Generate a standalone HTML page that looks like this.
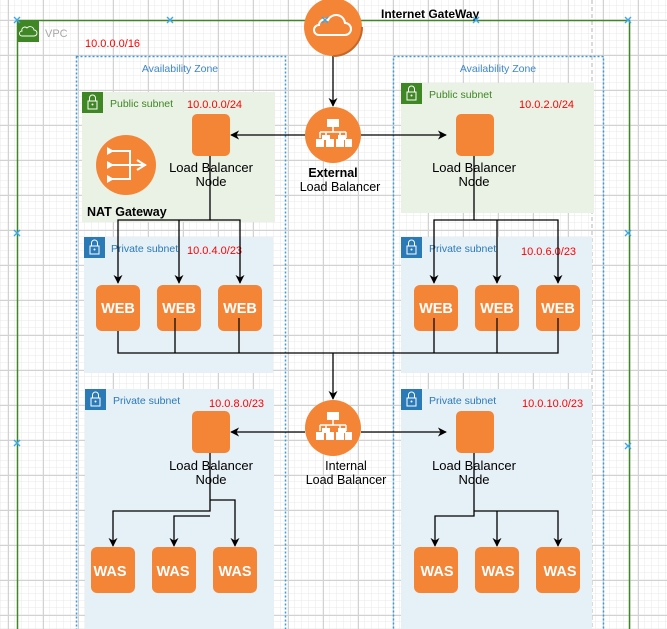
<!DOCTYPE html>
<html><head><meta charset="utf-8"><style>
html,body{margin:0;padding:0;background:#fff;}
svg{display:block;font-family:"Liberation Sans",sans-serif;}
</style></head><body>
<svg width="667" height="629" viewBox="0 0 667 629" xmlns="http://www.w3.org/2000/svg">
<defs>
<pattern id="minor" width="7" height="7" patternUnits="userSpaceOnUse" x="1" y="6">
<path d="M7 0V7M0 7H7" fill="none" stroke="#e9e9e9" stroke-width="1"/></pattern>
<pattern id="major" width="35" height="35" patternUnits="userSpaceOnUse" x="8" y="20">
<path d="M0.5 0V35M0 0.5H35" fill="none" stroke="#d2d2d2" stroke-width="1"/></pattern>
<marker id="ar" viewBox="0 0 10 10" refX="9" refY="5" markerWidth="9" markerHeight="9" orient="auto" markerUnits="userSpaceOnUse"><path d="M0 0L10 5L0 10L3 5Z" fill="#000"/></marker>
<g id="lock"><rect width="21" height="21" fill="currentColor"/><rect x="6" y="9" width="9" height="8" fill="none" stroke="#fff" stroke-width="1"/><path d="M7.5 9V6a3 3 0 0 1 6 0V9" fill="none" stroke="#fff" stroke-width="1"/><circle cx="10.5" cy="12.5" r="1" fill="#fff"/></g>
<g id="lbicon" fill="#fff"><rect x="-6" y="-17" width="12" height="8"/><path d="M0 -9V-4M-13 -4H13M-13 -4V2M13 -4V2M-7 -4V2M7 -4V2" stroke="#fff" stroke-width="1.5" fill="none"/><rect x="-17" y="3" width="8" height="8"/><rect x="-7" y="3" width="8" height="8"/><rect x="3" y="3" width="8" height="8"/><rect x="12" y="3" width="7" height="8"/><rect x="-11" y="-1" width="8" height="5"/><rect x="5" y="-1" width="8" height="5"/></g>
</defs>
<rect width="667" height="629" fill="url(#minor)"/>
<rect width="667" height="629" fill="url(#major)"/>
<line x1="592" y1="0" x2="592" y2="629" stroke="#b5b5b5" stroke-dasharray="4 3"/>

<!-- VPC -->
<rect x="17.5" y="20.5" width="612" height="620" fill="none" stroke="#3f8624" stroke-width="1.5"/>
<rect x="17" y="20" width="22" height="22" fill="#3f8624"/>
<path d="M22 36h12a3 3 0 0 0 0-6a4 4 0 0 0-7-2a3 3 0 0 0-5 3a2.5 2.5 0 0 0 0 5z" fill="none" stroke="#fff" stroke-width="0.9"/>
<text x="45" y="37" font-size="11" fill="#a8a8a8">VPC</text>
<text x="85" y="47" font-size="11" fill="#ff0000">10.0.0.0/16</text>

<!-- AZs -->
<rect x="76.5" y="56.5" width="209" height="580" fill="none" stroke="#3d9ad8" stroke-width="1.5" stroke-dasharray="2 2"/>
<rect x="393.5" y="56.5" width="210" height="580" fill="none" stroke="#3d9ad8" stroke-width="1.5" stroke-dasharray="2 2"/>
<text x="180" y="72" font-size="10.5" fill="#3d87c8" text-anchor="middle">Availability Zone</text>
<text x="498" y="72" font-size="10.5" fill="#3d87c8" text-anchor="middle">Availability Zone</text>

<!-- subnets -->
<rect x="82" y="92" width="193" height="130" fill="#e9f2e4"/>
<use href="#lock" x="82" y="92" color="#3f8624"/>
<text x="110" y="107" font-size="10.5" fill="#3f8624">Public subnet</text>
<text x="187" y="108" font-size="11" fill="#ff0000">10.0.0.0/24</text>

<rect x="401" y="83" width="193" height="130" fill="#e9f2e4"/>
<use href="#lock" x="401" y="83" color="#3f8624"/>
<text x="429" y="98" font-size="10.5" fill="#3f8624">Public subnet</text>
<text x="519" y="108" font-size="11" fill="#ff0000">10.0.2.0/24</text>

<rect x="84" y="237" width="189" height="136" fill="#e6f0f7"/>
<use href="#lock" x="84" y="237" color="#2a7ab8"/>
<text x="111" y="252" font-size="10.5" fill="#2a7ab8">Private subnet</text>
<text x="187" y="254" font-size="11" fill="#ff0000">10.0.4.0/23</text>

<rect x="401" y="237" width="191" height="136" fill="#e6f0f7"/>
<use href="#lock" x="401" y="237" color="#2a7ab8"/>
<text x="429" y="252" font-size="10.5" fill="#2a7ab8">Private subnet</text>
<text x="521" y="255" font-size="11" fill="#ff0000">10.0.6.0/23</text>

<rect x="85" y="389" width="189" height="245" fill="#e6f0f7"/>
<use href="#lock" x="85" y="389" color="#2a7ab8"/>
<text x="113" y="404" font-size="10.5" fill="#2a7ab8">Private subnet</text>
<text x="209" y="407" font-size="11" fill="#ff0000">10.0.8.0/23</text>

<rect x="401" y="389" width="191" height="245" fill="#e6f0f7"/>
<use href="#lock" x="401" y="389" color="#2a7ab8"/>
<text x="429" y="404" font-size="10.5" fill="#2a7ab8">Private subnet</text>
<text x="522" y="407" font-size="11" fill="#ff0000">10.0.10.0/23</text>

<!-- connectors -->
<g stroke="#000" stroke-width="1.3" fill="none">
<line x1="333" y1="56" x2="333" y2="106" marker-end="url(#ar)"/>
<line x1="305" y1="135" x2="231" y2="135" marker-end="url(#ar)"/>
<line x1="361" y1="135" x2="446" y2="135" marker-end="url(#ar)"/>
<path d="M210 156V220H118V283" marker-end="url(#ar)"/>
<path d="M210 220H240V283" marker-end="url(#ar)"/>
<path d="M179 220V283" marker-end="url(#ar)"/>
<path d="M474 156V220H434V283" marker-end="url(#ar)"/>
<path d="M474 220H558V283" marker-end="url(#ar)"/>
<path d="M497 220V283" marker-end="url(#ar)"/>
<path d="M118 320V353H558V318M175 318V353M239 318V353M434 318V353M497 318V353"/>
<line x1="333" y1="353" x2="333" y2="399" marker-end="url(#ar)"/>
<line x1="305" y1="432" x2="231" y2="432" marker-end="url(#ar)"/>
<line x1="361" y1="432" x2="446" y2="432" marker-end="url(#ar)"/>
<path d="M210 453V511H113V546" marker-end="url(#ar)"/>
<path d="M210 500H235V546" marker-end="url(#ar)"/>
<path d="M210 516H174V546" marker-end="url(#ar)"/>
<path d="M474 453V516H435V546" marker-end="url(#ar)"/>
<path d="M474 511H558V546" marker-end="url(#ar)"/>
<path d="M497 511V546" marker-end="url(#ar)"/>
</g>

<!-- IGW -->
<circle cx="333" cy="27" r="29" fill="#f58536"/>
<path d="M333 56a29 29 0 0 0 29-29" stroke="#c5672a" stroke-width="2" fill="none"/>
<path d="M319 35h26a6 6 0 0 0 0-12a9 9 0 0 0-17-3a6 6 0 0 0-9 5a5 5 0 0 0 0 10z" fill="none" stroke="#fff" stroke-width="2"/>
<text x="381" y="18" font-size="12" font-weight="bold" fill="#000">Internet GateWay</text>

<!-- LBs -->
<circle cx="333" cy="135" r="28" fill="#f58536"/>
<use href="#lbicon" x="333" y="136"/>
<text x="333" y="177" font-size="12.5" text-anchor="middle" font-weight="bold">External</text>
<text x="340" y="191" font-size="12.5" text-anchor="middle">Load Balancer</text>
<circle cx="333" cy="428" r="28" fill="#f58536"/>
<use href="#lbicon" x="333" y="429"/>
<text x="346" y="470" font-size="12.5" text-anchor="middle">Internal</text>
<text x="346" y="484" font-size="12.5" text-anchor="middle">Load Balancer</text>

<!-- NAT -->
<circle cx="126" cy="165" r="30" fill="#f58536"/>
<g stroke="#fff" stroke-width="2" fill="none"><path d="M108 151H130V179H108M108 165H146M137 160l8 5-8 5"/></g>
<g fill="#fff"><path d="M107 147l7 4-7 4z M107 161l7 4-7 4z M107 175l7 4-7 4z"/></g>
<text x="87" y="216" font-size="12.5" font-weight="bold">NAT Gateway</text>

<!-- LB nodes -->
<g fill="#f58536">
<rect x="192" y="114" width="38" height="42" rx="5"/>
<rect x="456" y="114" width="38" height="42" rx="5"/>
<rect x="192" y="411" width="38" height="42" rx="5"/>
<rect x="456" y="411" width="38" height="42" rx="5"/>
</g>
<g font-size="13" text-anchor="middle">
<text x="211" y="172">Load Balancer</text><text x="211" y="186">Node</text>
<text x="474" y="172">Load Balancer</text><text x="474" y="186">Node</text>
<text x="211" y="470">Load Balancer</text><text x="211" y="484">Node</text>
<text x="474" y="470">Load Balancer</text><text x="474" y="484">Node</text>
</g>

<!-- WEB -->
<g fill="#f58536">
<rect x="96" y="285" width="44" height="46" rx="6"/><rect x="157" y="285" width="44" height="46" rx="6"/><rect x="218" y="285" width="44" height="46" rx="6"/>
<rect x="414" y="285" width="44" height="46" rx="6"/><rect x="475" y="285" width="44" height="46" rx="6"/><rect x="536" y="285" width="44" height="46" rx="6"/>
<rect x="91" y="547" width="44" height="46" rx="6"/><rect x="152" y="547" width="44" height="46" rx="6"/><rect x="213" y="547" width="44" height="46" rx="6"/>
<rect x="414" y="547" width="44" height="46" rx="6"/><rect x="475" y="547" width="44" height="46" rx="6"/><rect x="536" y="547" width="44" height="46" rx="6"/>
</g>
<g fill="#fff" font-size="14.5" font-weight="bold" text-anchor="middle">
<text x="118" y="313">WEB</text><text x="179" y="313">WEB</text><text x="240" y="313">WEB</text>
<text x="436" y="313">WEB</text><text x="497" y="313">WEB</text><text x="558" y="313">WEB</text>
<text x="110" y="576">WAS</text><text x="173" y="576">WAS</text><text x="235" y="576">WAS</text>
<text x="437" y="576">WAS</text><text x="498" y="576">WAS</text><text x="560" y="576">WAS</text>
</g>
<g stroke="#000" stroke-width="1.2"><path d="M175 318V331M239 318V331M434 318V331M497 318V331M558 318V331"/></g>

<!-- blue x markers -->
<g stroke="#3da8e8" stroke-width="1.4">
<path d="M14 17l6 6M20 17l-6 6M167 17l6 6M173 17l-6 6M322 17l6 6M328 17l-6 6M473 17l6 6M479 17l-6 6M625 17l6 6M631 17l-6 6M14 230l6 6M20 230l-6 6M625 230l6 6M631 230l-6 6M14 440l6 6M20 440l-6 6M625 443l6 6M631 443l-6 6"/>
</g>
</svg>
</body></html>
